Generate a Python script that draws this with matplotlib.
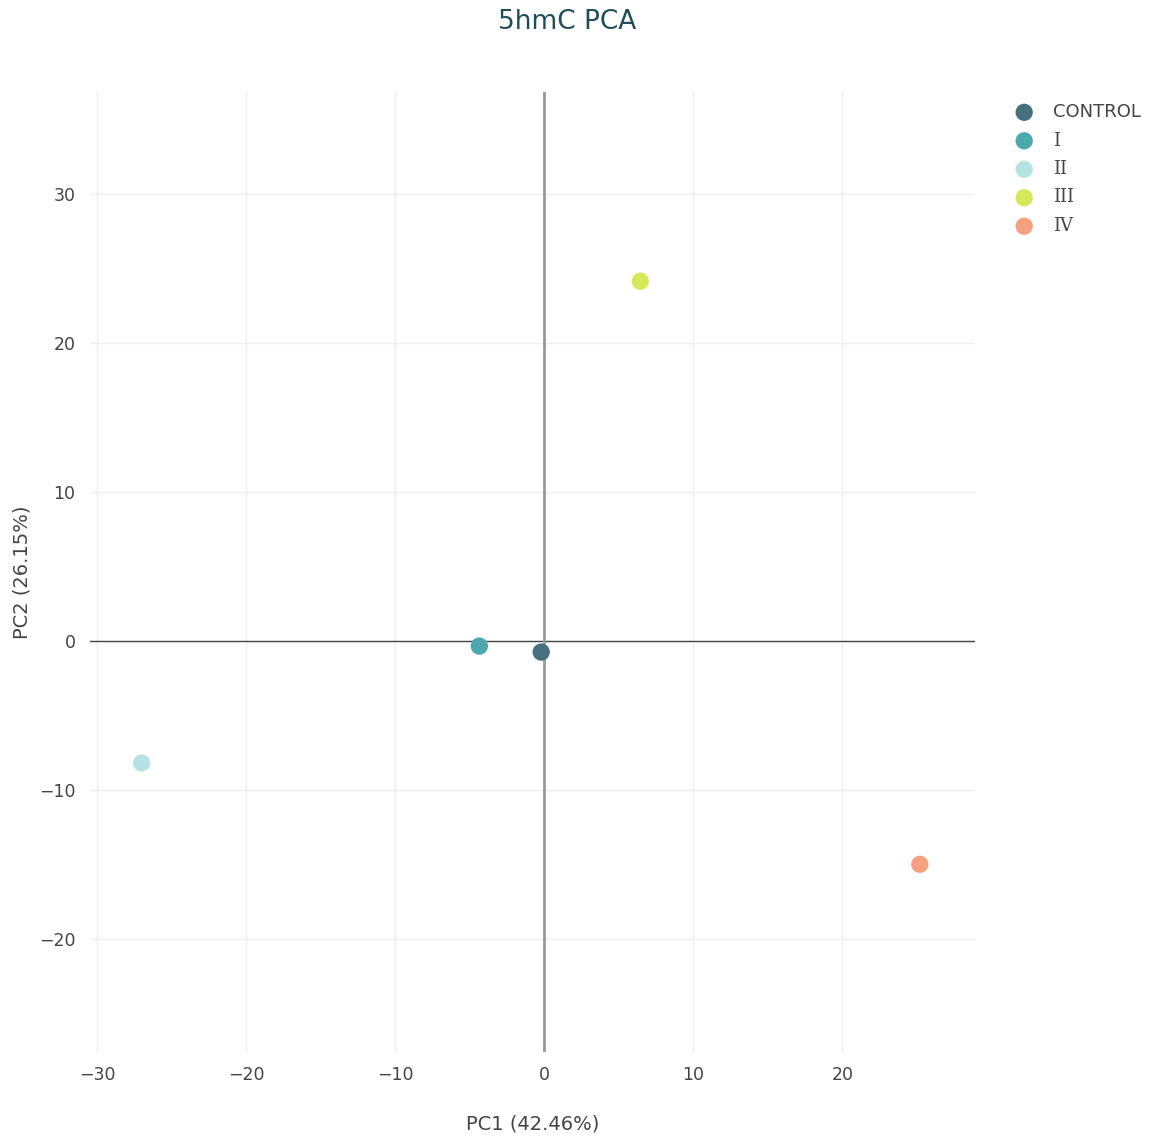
import matplotlib.pyplot as plt

# PCA scores per group
groups = ['CONTROL', 'I', 'II', 'III', 'IV']
pc1 = [-0.2, -4.35, -27.0, 6.45, 25.2]
pc2 = [-0.75, -0.35, -8.2, 24.15, -15.0]
colors = ['#46707d', '#4ba8ad', '#b5e3e3', '#d4e859', '#f7a080']

x_ticks = [-30, -20, -10, 0, 10, 20]
y_ticks = [-20, -10, 0, 10, 20, 30]

fig = plt.figure(figsize=(11.52, 11.42), dpi=100)
ax = fig.add_axes([89.5 / 1152, 1 - 1052 / 1142, (975 - 89.5) / 1152, (1052 - 92) / 1142])

for name, x, y, c in zip(groups, pc1, pc2, colors):
    ax.scatter(x, y, s=155, color=c, label=name, zorder=3, edgecolors='none')

ax.set_xlim(-30.5, 28.9)
ax.set_ylim(-27.6, 36.85)
ax.set_xticks(x_ticks)
ax.set_yticks(y_ticks)
ax.set_xticklabels(['\u2212' + str(-t) if t < 0 else str(t) for t in x_ticks])
ax.set_yticklabels(['\u2212' + str(-t) if t < 0 else str(t) for t in y_ticks])

ax.grid(True, color='#eeeeee', linewidth=1)
ax.set_axisbelow(True)
ax.axhline(0, color='#444444', linewidth=1, zorder=2)
ax.axvline(0, color='#999999', linewidth=2, zorder=2)

for s in ax.spines.values():
    s.set_visible(False)
ax.tick_params(length=0, labelsize=12.5, labelcolor='#444444', pad=10)

ax.set_xlabel('PC1 (42.46%)', fontsize=14, color='#444444')
ax.set_ylabel('PC2 (26.15%)', fontsize=14, color='#444444')
ax.xaxis.set_label_coords(0.5, -0.075)
ax.yaxis.set_label_coords(-0.076, 0.5)
ax.yaxis.label.set_va('center')
ax.xaxis.label.set_va('center')
fig.text(567 / 1152, 1 - 22 / 1142, '5hmC PCA', fontsize=19, color='#1f4e5a',
         ha='center', va='center')

leg = ax.legend(loc='upper left', bbox_to_anchor=(1.027, 0.996), frameon=False,
                fontsize=13, handletextpad=0.6, labelspacing=0.58, borderaxespad=0)
for t in leg.get_texts():
    t.set_color('#444444')
    if t.get_text() != 'CONTROL':
        t.set_family('DejaVu Serif')

fig.savefig('out.png', dpi=100)
